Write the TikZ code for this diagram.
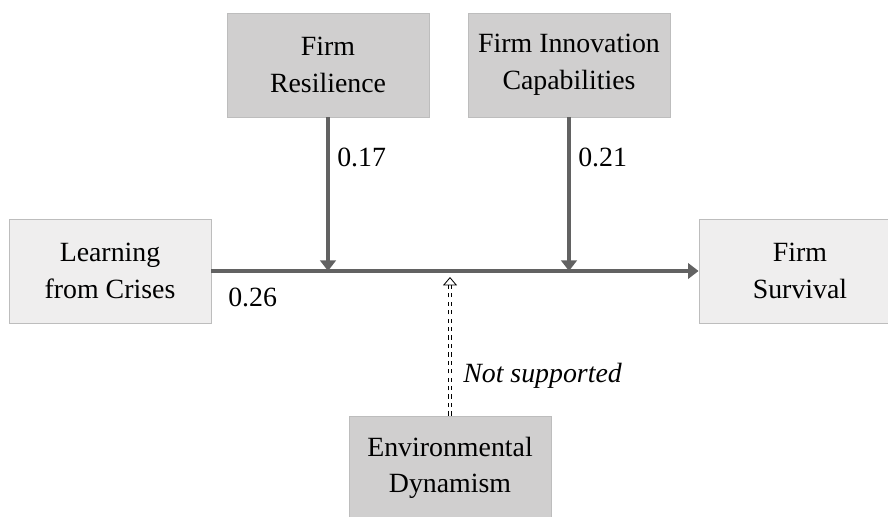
\documentclass[tikz,border=0pt]{standalone}
\usepackage{fontspec}
\setmainfont{Liberation Serif}
\usepackage{xcolor}
\usetikzlibrary{
    arrows.meta,
    positioning
}
\definecolor{darkbox}{HTML}{D0CFCF}
\definecolor{lightbox}{HTML}{EFEEEE}
\definecolor{boxline}{HTML}{BDBDBD}
\definecolor{pathgray}{HTML}{626262}

\begin{document}
\begin{tikzpicture}[x=0.025cm, y=-0.025cm,
    font=\fontsize{19.8}{26}\selectfont,
    var/.style={
        rectangle,
        draw=boxline,
        line width=0.6pt,
        align=center,
        minimum height=2.6cm,
        minimum width=5.05cm
    },
    modvar/.style={var, fill=darkbox},
    mainvar/.style={var, fill=lightbox},
    coef/.style={anchor=west, inner sep=0pt},
    arrow/.style={-{Triangle[length=7.5pt,width=11pt]}, line width=2.2pt, pathgray},
    weakarrow/.style={-{Triangle[open,length=6pt,width=10pt]}, double, double distance=2pt, line width=0.6pt, dashed}
]
\useasboundingbox (0,0) rectangle (888,517);

% ===== Main path =====
\node[mainvar] (lfc) at (110,271) {Learning\\from Crises};
\node[mainvar] (surv) at (800,271) {Firm\\Survival};

\draw[arrow] (lfc) -- (surv);
\node[coef] at (228,297) {0.26};

% ===== Moderators =====
\node[modvar] (res) at (328,65) {Firm\\Resilience};
\node[modvar] (inn) at (569,65) {Firm Innovation\\Capabilities};
\node[modvar] (env) at (450,468) {Environmental\\Dynamism};

\coordinate (mres) at (res.south |- lfc.east);
\coordinate (minn) at (inn.south |- lfc.east);
\coordinate (menv) at (450,277);

\draw[arrow] (res) -- (mres);
\draw[arrow] (inn) -- (minn);
\draw[weakarrow] (env) -- (menv);

\node[coef] at (337,157) {0.17};
\node[coef] at (578,157) {0.21};
\node[coef] at (463,376) {\itshape Not supported};

\end{tikzpicture}
\end{document}
